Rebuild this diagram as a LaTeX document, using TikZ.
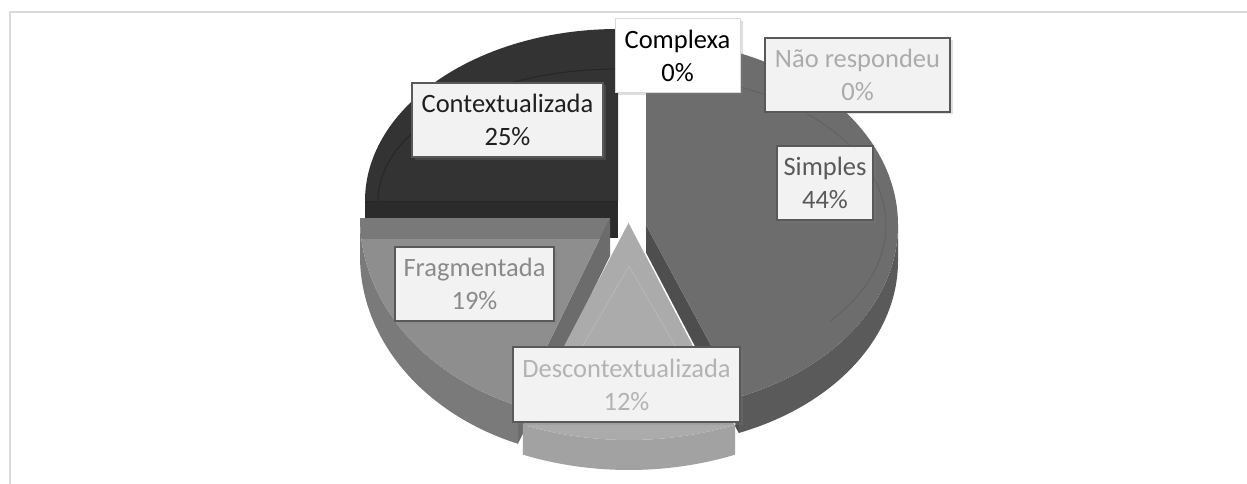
\documentclass[tikz,border=0pt]{standalone}
\usepackage{fontspec}
\setmainfont{Carlito}
\usetikzlibrary{shadows,calc}
\definecolor{frameC}{HTML}{D9D9D9}
\definecolor{ctxTop}{HTML}{333333}
\definecolor{ctxSide}{HTML}{2B2B2B}
\definecolor{ctxLine}{HTML}{262626}
\definecolor{simTop}{HTML}{6D6D6D}
\definecolor{simSide}{HTML}{5A5A5A}
\definecolor{simRad}{HTML}{4E4E4E}
\definecolor{simLine}{HTML}{626262}
\definecolor{fraTop}{HTML}{8E8E8E}
\definecolor{fraSide}{HTML}{7A7A7A}
\definecolor{fraRad}{HTML}{6C6C6C}
\definecolor{desTop}{HTML}{ABABAB}
\definecolor{desSide}{HTML}{A2A2A2}
\definecolor{desLine}{HTML}{B8B8B8}
\definecolor{boxFill}{HTML}{F2F2F2}
\definecolor{boxLine}{HTML}{595959}
\definecolor{txtCtx}{HTML}{1F1F1F}
\definecolor{txtSim}{HTML}{595959}
\definecolor{txtNao}{HTML}{ABABAB}
\definecolor{txtFra}{HTML}{8A8A8A}
\definecolor{txtDes}{HTML}{B3B3B3}
\begin{document}
\begin{tikzpicture}[x=1pt,y=-1pt,
  lbl/.style={draw=boxLine, line width=2pt, fill=boxFill, align=center, inner sep=0pt,
    font=\fontsize{26.5}{33}\selectfont,
    drop shadow={shadow xshift=2.5pt, shadow yshift=-2.5pt, opacity=0.25}},
  lbllight/.style={lbl, draw=frameC, line width=1pt, fill=white}]
\useasboundingbox (0,0) rectangle (1247,484);
\fill[white] (0,0) rectangle (1247,484);
% frame
\draw[frameC, line width=2pt] (10,484) -- (10,12) -- (1247,12);

% ---- Contextualizada (25%)
\coordinate (K) at (618,201);
\fill[ctxSide] (365,201) rectangle (618,238);
\fill[ctxTop] (K) -- ++(180:253 and 172) arc[start angle=180, end angle=270, x radius=253, y radius=172] -- cycle;
\draw[ctxLine, line width=1pt] ($(K)+(180:240 and 132)$) arc[start angle=180, end angle=270, x radius=240, y radius=132];
\draw[ctxLine, line width=1pt] (365,201) -- (618,201);

% ---- Simples (44%)
\coordinate (S) at (646,225);
\coordinate (SC) at ($(S)+(68.4:252 and 185)$);
\fill[simRad] (S) -- (SC) -- ++(0,36) -- ($(S)+(0,36)$) -- cycle;
\fill[simSide] ($(S)+(0:252 and 185)$) arc[start angle=0, end angle=68.4, x radius=252, y radius=185]
   -- ++(0,36) arc[start angle=68.4, end angle=0, x radius=252, y radius=185] -- cycle;
\fill[simTop] (S) -- ++(270:252 and 185) arc[start angle=270, end angle=428.4, x radius=252, y radius=185] -- cycle;
\draw[simLine, line width=1pt] ($(S)+(285:240 and 150)$) arc[start angle=285, end angle=400, x radius=240, y radius=150];

% ---- Fragmentada (19%)
\coordinate (F) at (610,218);
\coordinate (FC) at ($(F)+(111.6:250 and 202)$);
\fill[fraRad] (F) -- (FC) -- ++(0,38) -- ($(F)+(0,38)$) -- cycle;
\fill[fraSide] (FC) arc[start angle=111.6, end angle=180, x radius=250, y radius=202]
   -- ++(0,38) arc[start angle=180, end angle=111.6, x radius=250, y radius=202] -- cycle;
\fill[fraTop] (F) -- (FC) arc[start angle=111.6, end angle=180, x radius=250, y radius=202] -- cycle;
\begin{scope}
  \clip (F) -- (FC) arc[start angle=111.6, end angle=180, x radius=250, y radius=202] -- cycle;
  \fill[black, opacity=0.14] (350,218) rectangle (620,239);
\end{scope}

% ---- Descontextualizada (12%)
\coordinate (D) at (629,222);
\coordinate (DR) at ($(D)+(68.4:288 and 218)$);
\coordinate (DL) at ($(D)+(111.6:288 and 218)$);
\fill[desSide] (DR) arc[start angle=68.4, end angle=111.6, x radius=288, y radius=218]
   -- ++(0,30) arc[start angle=111.6, end angle=68.4, x radius=288, y radius=218] -- cycle;
\fill[desTop] (D) -- (DR) arc[start angle=68.4, end angle=111.6, x radius=288, y radius=218] -- cycle;
\draw[desLine, line width=0.8pt] (629,266) -- ($(DL)+(14,0)$);
\draw[desLine, line width=0.8pt] (629,266) -- ($(DR)+(-14,0)$);
\draw[white, line width=1.5pt] (D) -- (DR);

% ---- labels
\node[lbllight, text=black, minimum width=125pt, minimum height=74pt] (lcomp) at (677.5,56) {Complexa\\0\%};
\node[lbl, text=txtNao, minimum width=185pt, minimum height=74pt] (lnao) at (857.5,75) {Não respondeu\\0\%};
\node[lbl, text=txtCtx, minimum width=191pt, minimum height=74pt] (lctx) at (507.5,120) {Contextualizada\\25\%};
\node[lbl, text=txtSim, minimum width=96pt, minimum height=74pt] (lsim) at (825,183) {Simples\\44\%};
\node[lbl, text=txtFra, minimum width=159pt, minimum height=74pt] (lfra) at (474.5,284) {Fragmentada\\19\%};
\node[lbl, text=txtDes, minimum width=227pt, minimum height=75pt] (ldes) at (626.5,384.5) {Descontextualizada\\12\%};
\end{tikzpicture}
\end{document}
